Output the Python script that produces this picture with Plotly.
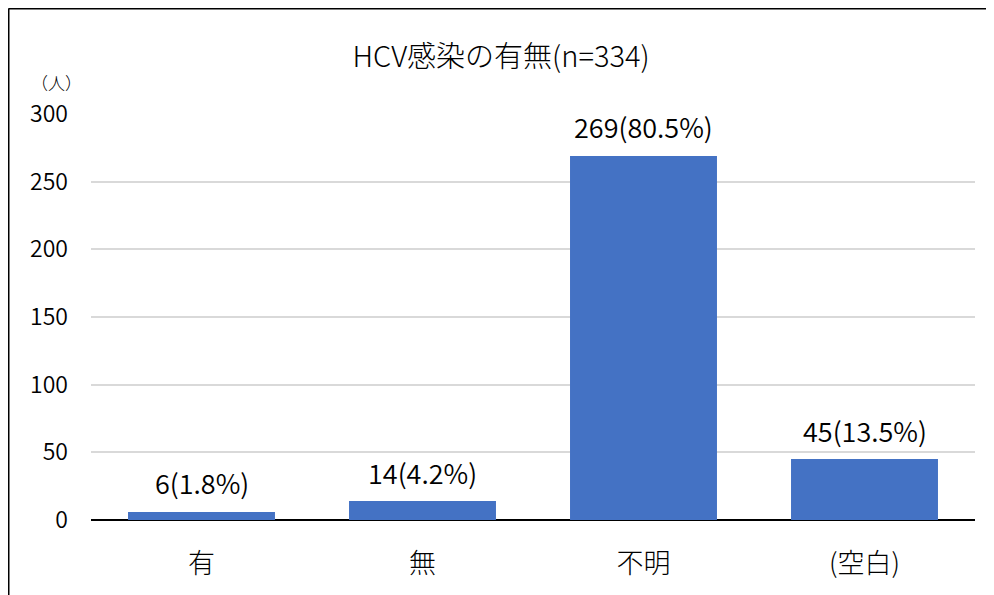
import plotly.graph_objects as go

categories = ["有", "無", "不明", "(空白)"]
counts = [6, 14, 269, 45]
percents = ["1.8%", "4.2%", "80.5%", "13.5%"]
labels = [f"{c}({p})" for c, p in zip(counts, percents)]
yticks = [0, 50, 100, 150, 200, 250, 300]

FONT = "Noto Sans CJK JP"
WT = 300

fig = go.Figure(go.Bar(
    x=categories, y=counts,
    marker=dict(color="#4472C4", line=dict(width=0)),
    hoverinfo="x+y",
))

# page body has an 8px margin; reference coordinates are shifted by -8
OFF = 8
W, H = 994 - OFF, 595 - OFF
L, T = 91 - OFF, 114 - OFF
pw, ph = 884, 406
R, B = W - L - pw, H - T - ph

annotations = [dict(x=c, y=v, xref="x", yref="y", text=t, showarrow=False,
                    yanchor="middle", xanchor="center", yshift=29,
                    font=dict(size=27, color="#000000", family=FONT, weight=350))
               for c, v, t in zip(categories, counts, labels)]
annotations.append(dict(text="（人）", xref="paper", yref="paper",
                        x=(56 - 91) / pw, y=1 + (114 - 82) / ph,
                        xanchor="center", yanchor="middle", showarrow=False,
                        font=dict(size=17, color="#000000", family=FONT, weight=WT)))

x_left = (8.5 - 91) / pw
y_top = 1 + (114 - 8.5) / ph

fig.update_layout(
    width=W, height=H,
    margin=dict(l=L, r=R, t=T, b=B, pad=0),
    paper_bgcolor="white", plot_bgcolor="white",
    bargap=0.335,
    showlegend=False,
    font=dict(family=FONT, color="#000000", weight=WT),
    title=dict(text="HCV感染の有無(n=334)", x=0.5, xanchor="center",
               y=1 - (57 - OFF) / H, yanchor="middle",
               font=dict(size=29, color="#000000", family=FONT, weight=WT)),
    xaxis=dict(showgrid=False, ticks="", showline=False,
               tickfont=dict(size=27, color="#000000", family=FONT, weight=WT),
               ticklabelstandoff=25),
    yaxis=dict(range=[0, 300], tickvals=yticks, showgrid=True,
               gridcolor="#D9D9D9", gridwidth=1.5,
               zeroline=True, zerolinecolor="#000000", zerolinewidth=1.5,
               showline=False, ticks="",
               tickfont=dict(size=23, color="#000000", family=FONT, weight=350),
               ticklabelstandoff=22),
    annotations=annotations,
    shapes=[
        dict(type="line", xref="paper", yref="paper",
             x0=x_left, x1=x_left, y0=-0.3, y1=y_top,
             line=dict(color="#000000", width=2)),
        dict(type="line", xref="paper", yref="paper",
             x0=x_left, x1=1.2, y0=y_top, y1=y_top,
             line=dict(color="#000000", width=2)),
    ],
)

fig.write_html("out.html")
